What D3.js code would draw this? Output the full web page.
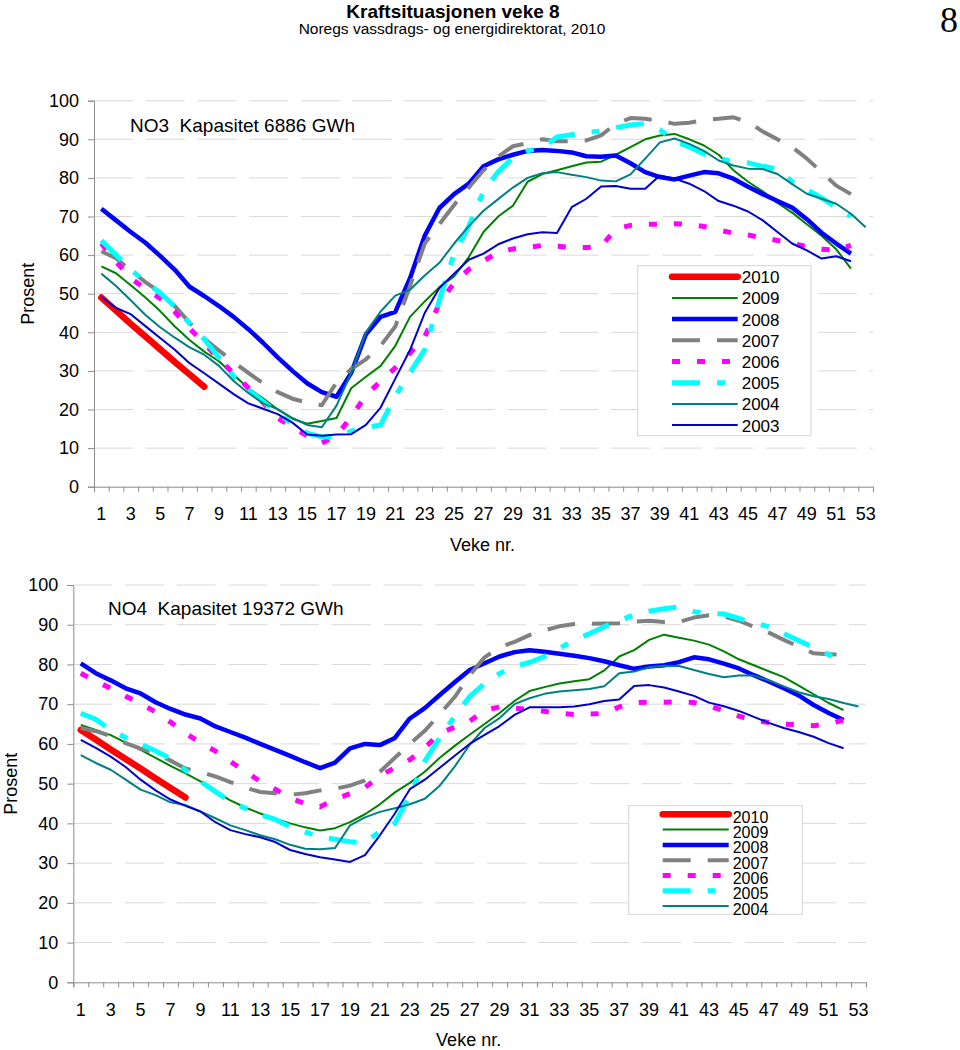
<!DOCTYPE html>
<html><head><meta charset="utf-8">
<script src="https://cdn.jsdelivr.net/npm/d3@7"></script>
<style>
body{margin:0;background:#fff;}
svg{display:block;font-family:"Liberation Sans",Arial,sans-serif;}
</style></head><body>
<svg id="c" width="960" height="1050"></svg>
<script>
// ---------- DATA ----------
const weeks = d3.range(1, 54);
const weekLabels = d3.range(1, 54, 2);
const yTicks = d3.range(0, 101, 10);
const years = ["2010","2009","2008","2007","2006","2005","2004","2003"];

// NO3 (Kapasitet 6886 GWh)
const no3_2010 = [49,45.6,42.2,38.9,35.6,32.3,29.1,25.9];
const no3_2009 = [57.1,55.3,52.2,49,45.5,41.5,38,35,32.5,29,25.5,22.9,20,17.6,16.3,17,17.8,25.5,28.5,31.3,36.5,44,48,51.7,54.5,59.5,66,70,72.8,79,81,82,83,84,84.2,86,88,90,91,91.4,90,88.4,86,82,79,76.5,73.5,71,68,65,61.5,56.5];
const no3_2008 = [72,69,66,63.2,59.8,56.2,51.8,49.4,46.8,44,40.8,37.3,33.5,30,26.8,24.5,23.3,29.5,39.5,44,45.3,54,65,72.2,75.8,78.5,83,84.8,86,87,87.2,87,86.6,85.6,85.5,85.8,83.8,81.5,80.2,79.6,80.6,81.5,81.2,79.8,77.7,75.8,74,72.3,69.3,65.8,63,60.4];
const no3_2007 = [61,59.2,56,53,50.4,46.8,42.5,38.4,35.3,32.3,29.5,26.8,24.5,22.8,21.8,21.1,27,30.5,33,36.5,41.5,52,63,68,73,77.5,82,85.5,88.2,89,90,89.5,89.5,89.7,91,94,95.5,95.3,94.8,94,94.3,95,95.3,95.7,94.5,92,90,88,85,81.5,78,75.8];
const no3_2006 = [63,58.3,54,51.3,48.8,45.3,41,37.2,33,29.4,25.6,21.8,17.8,15.4,13.2,11.3,13.3,18,23.7,27.3,30.8,34.6,38.8,47.5,52.8,56.3,58.5,60.7,61.6,62,62.5,62.3,62,62,62.2,66.8,67.7,68,68,68.1,68,67.4,66.5,65.7,65.2,64.5,63.8,63,62.2,61.5,61.3,62.5];
const no3_2005 = [63.8,60,56.3,53,50.2,46.7,42.3,38.2,33.4,28.6,25.1,22.1,19.1,16.2,13.9,12.9,12.9,14.4,15.3,16,23.5,29.5,35.5,48.3,60.5,67.5,76.5,81.6,85.2,87,87.8,90.6,91.2,91.8,92.1,93,93.7,94.1,92.5,89.5,88,86.2,85,84.3,83.9,83,82.3,79,77,74.8,72.4,70];
const no3_2004 = [55.2,52,48.3,44.5,41.3,38.6,36.1,34.2,31.3,27.4,24.3,21.6,20.1,17.8,16,15.4,21,29.5,40,45.4,49.5,51,54.7,58,63,67.5,71.5,74.5,77.5,80,81.2,81.5,80.8,80.2,79.3,79.1,80.9,85,89.2,90.2,88.8,87,84.5,83.2,82.4,82.3,81,78.4,75.9,74.6,73.3,70.7,67.2];
const no3_2003 = [49.2,46.3,44.7,41.6,38.5,35.5,32,29.4,26.7,24,21.6,20.2,18.8,16.6,13.5,13.2,13.5,13.6,16,20.5,28,35.4,45,51.5,55.2,58.8,60.4,62.8,64.3,65.4,65.9,65.7,72.4,74.6,77.8,77.9,77.2,77.2,80.6,79.8,78.5,76.6,74,72.8,71.3,69,66,63,61.2,59.1,59.7,58.4];

// NO4 (Kapasitet 19372 GWh)
const no4_2010 = [63.5,61.1,58.6,56.2,53.8,51.3,48.9,46.5];
const no4_2009 = [64.8,63.5,62.2,60.3,58.5,56.5,54.5,52.6,50.6,48,45.8,44,42.5,41.2,40,39,38.2,38.8,40.3,42.3,44.8,47.8,50.2,53,56.5,59.5,62.3,65,67.8,70.8,73.3,74.3,75.2,75.8,76.3,78.5,82,83.6,86.2,87.5,86.7,86,85,83.3,81.3,79.8,78.3,76.8,74.7,72.5,70.3,68.5];
const no4_2008 = [80.3,77.8,76,74,72.7,70.5,68.8,67.4,66.4,64.4,63,61.6,60,58.5,57,55.4,53.9,55.3,58.9,60,59.7,61.5,66.4,69,72.3,75.5,78.6,80.3,82,83.1,83.6,83.2,82.7,82.2,81.6,80.8,79.8,78.9,79.5,79.8,80.6,81.8,81.3,80.2,79,77.3,75.7,74,72.2,69.8,67.8,66];
const no4_2007 = [64,63.2,62,60.2,58.8,57.7,55.8,53.8,53,51.8,50.4,49,47.9,47.6,47.2,47.6,48.3,48.7,49.5,50.8,53,56.5,60,63.3,67.5,71.8,77.3,81.8,84.3,85.7,87.4,88.6,89.6,90.2,90.2,90.3,90.4,90.8,91,90.7,90.7,91.8,92.4,92.1,91,89.5,88,86.2,84.5,82.8,82.6,82.4];
const no4_2006 = [77.8,75.8,74,72,70.2,68,65.5,62.7,60.3,58.2,55.6,53,50.6,48.6,46.3,45,44.2,46,47.5,49,52,54,56,59,62.7,64.2,65.7,68.5,69.3,69,68.7,68.2,67.7,67.4,67.5,67.7,69.3,70.4,70.5,70.5,70.6,70.4,69.5,68.4,67,66,65.4,65,64.8,64.6,65,66];
const no4_2005 = [67.7,66.2,63.5,61.6,60,58.2,56.3,53.3,50.6,48,45.5,43.8,42.2,41,39.2,37.8,36.6,36,35.4,35.1,38,40,47,55.7,61.5,67,71.9,75.2,77.7,79.5,80.5,82,84,86.3,87.7,89.5,91,92.5,93.4,94,94.5,93.3,92.8,92.7,91.6,90.5,89.5,87.8,86,84.3,82.5,80.5];
const no4_2004 = [57.2,55.2,53.5,51,48.5,47.1,45.3,44.6,43,41.3,39.5,38.3,37,36,34.6,33.6,33.5,33.8,39.5,41.5,42.9,43.8,44.8,46.2,49.5,54.3,59.8,64,66.5,70,71.5,72.6,73.2,73.5,73.8,74.5,77.8,78.2,79.3,79.7,79.6,78.6,77.6,76.8,77.2,77.2,76,74.5,73,72,71.3,70.3,69.4];
const no4_2003 = [61,59,56.8,54.2,51,48.3,46,44.4,43,40.3,38.3,37.3,36.5,35.3,33.3,32.3,31.5,30.9,30.3,32,37,42.5,48.6,51,54,57,60,62.3,64.5,67.3,69.2,69.2,69.2,69.4,70,70.8,71.2,74.6,74.8,74.2,73.2,72.1,70.4,69.5,68.3,66.8,65.3,64,63,61.8,60.2,58.9];

// ---------- STYLES ----------
const style = {
  "2010": {color:"#ff0000", width:6.5, dash:null, cap:"round"},
  "2009": {color:"#008000", width:2, dash:null, cap:"butt"},
  "2008": {color:"#0000ff", width:4.5, dash:null, cap:"butt"},
  "2007": {color:"#808080", width:4, dash:"28,17", cap:"butt"},
  "2006": {color:"#ff00ff", width:5, dash:"8,17", cap:"butt"},
  "2005": {color:"#00ffff", width:5, dash:"28,17,8,17", cap:"butt"},
  "2004": {color:"#008080", width:2, dash:null, cap:"butt"},
  "2003": {color:"#0000cc", width:2, dash:null, cap:"butt"}
};

const svg = d3.select("#c");

// header
svg.append("text").attr("x", 453).attr("y", 17.5).attr("text-anchor","middle")
  .attr("font-size", 19).attr("font-weight","bold").text("Kraftsituasjonen veke 8");
svg.append("text").attr("x", 452).attr("y", 34).attr("text-anchor","middle")
  .attr("font-size", 15.5).text("Noregs vassdrags- og energidirektorat, 2010");
svg.append("text").attr("x", 958).attr("y", 32).attr("text-anchor","end")
  .attr("font-family","'Liberation Serif','Times New Roman',serif")
  .attr("font-size", 36).text("8");

function panel(cfg) {
  const g = svg.append("g");
  const x = d3.scaleBand().domain(weeks).range([cfg.left, cfg.right]).padding(0);
  const xb = d3.scaleLinear().domain([0, 53]).range([cfg.left, cfg.right]);
  const y = d3.scaleLinear().domain([0, 100]).range([cfg.bottom, cfg.top]);
  const cx = w => x(w) + x.bandwidth() / 2;

  // gridlines
  g.append("g").selectAll("line").data(yTicks.filter(v => v > 0)).join("line")
    .attr("x1", cfg.left).attr("x2", cfg.right)
    .attr("y1", d => y(d)).attr("y2", d => y(d))
    .attr("stroke", "#d9d9d9").attr("stroke-width", 1).attr("stroke-dasharray", "39,12.7");

  // y axis
  const ya = g.append("g").attr("transform", `translate(${cfg.left},0)`)
    .call(d3.axisLeft(y).tickValues(yTicks).tickSize(6).tickPadding(9));
  ya.select(".domain").attr("stroke", "#8c8c8c");
  ya.selectAll(".tick line").attr("stroke", "#8c8c8c");
  ya.selectAll("text").attr("font-size", 18).attr("font-family", "'Liberation Sans',Arial,sans-serif").attr("fill", "#000");

  // x axis: ticks at category boundaries
  const xa = g.append("g").attr("transform", `translate(0,${cfg.bottom})`)
    .call(d3.axisBottom(xb).tickValues(d3.range(0, 54)).tickSize(5).tickFormat(""));
  xa.select(".domain").attr("stroke", "#8c8c8c");
  xa.selectAll(".tick line").attr("stroke", "#8c8c8c");
  const xl = g.append("g").attr("transform", `translate(0,${cfg.bottom})`)
    .call(d3.axisBottom(x).tickValues(weekLabels).tickSize(0).tickPadding(21));
  xl.select(".domain").remove();
  xl.selectAll("text").attr("font-size", 18).attr("font-family", "'Liberation Sans',Arial,sans-serif").attr("fill", "#000");

  // axis titles
  g.append("text").attr("transform", `translate(${cfg.yTitleX},${(cfg.top + cfg.bottom) / 2}) rotate(-90)`)
    .attr("text-anchor", "middle").attr("dominant-baseline", "central")
    .attr("font-size", 18).text("Prosent");
  g.append("text").attr("x", (cfg.left + cfg.right) / 2 - 1).attr("y", cfg.xTitleY)
    .attr("text-anchor", "middle").attr("font-size", 18).text("Veke nr.");

  // chart title (double space kept)
  g.append("text").attr("x", cfg.titleX).attr("y", cfg.titleY)
    .attr("xml:space", "preserve").style("white-space", "pre")
    .attr("font-size", 19).text(cfg.title);

  // lines
  const line = d3.line().defined(d => d.v != null).x(d => cx(d.w)).y(d => y(d.v));
  cfg.series.forEach(s => {
    const st = style[s.year];
    const pts = s.values.map((v, i) => ({w: i + 1, v: v}));
    g.append("path").datum(pts).attr("d", line)
      .attr("fill", "none").attr("stroke", st.color).attr("stroke-width", st.width)
      .attr("stroke-dasharray", st.dash).attr("stroke-linecap", st.cap)
      .attr("stroke-linejoin", "round");
  });

  // legend
  const L = cfg.legend;
  const lg = g.append("g");
  lg.append("rect").attr("x", L.x0).attr("y", L.y0).attr("width", L.x1 - L.x0).attr("height", L.y1 - L.y0)
    .attr("fill", "#fff").attr("stroke", "#d4d4d4").attr("stroke-width", 1);
  L.years.forEach((yr, i) => {
    const st = style[yr];
    const yy = L.rowY + i * L.rowH;
    lg.append("line").attr("x1", L.lx0).attr("x2", L.lx1).attr("y1", yy).attr("y2", yy)
      .attr("stroke", st.color).attr("stroke-width", st.width)
      .attr("stroke-dasharray", st.dash).attr("stroke-linecap", st.cap);
    lg.append("text").attr("x", L.tx).attr("y", yy + L.tdy).attr("dominant-baseline", "central")
      .attr("font-size", L.fs).text(yr);
  });
}

panel({
  left: 94, right: 873, top: 100.7, bottom: 486.7,
  yTitleX: 28, xTitleY: 551,
  title: "NO3  Kapasitet 6886 GWh", titleX: 130, titleY: 131.5,
  series: [
    {year:"2010", values:no3_2010}, {year:"2009", values:no3_2009}, {year:"2008", values:no3_2008},
    {year:"2007", values:no3_2007}, {year:"2006", values:no3_2006}, {year:"2005", values:no3_2005},
    {year:"2004", values:no3_2004}, {year:"2003", values:no3_2003}
  ],
  legend: {x0: 637.7, x1: 811, y0: 265.7, y1: 435.7, rowY: 276.7, rowH: 21.2,
           lx0: 672, lx1: 737.7, tx: 741.7, tdy: 1, fs: 17, years: years}
});

panel({
  left: 73.3, right: 866, top: 585, bottom: 982.3,
  yTitleX: 10.5, xTitleY: 1046,
  title: "NO4  Kapasitet 19372 GWh", titleX: 108, titleY: 614.5,
  series: [
    {year:"2010", values:no4_2010}, {year:"2009", values:no4_2009}, {year:"2008", values:no4_2008},
    {year:"2007", values:no4_2007}, {year:"2006", values:no4_2006}, {year:"2005", values:no4_2005},
    {year:"2004", values:no4_2004}, {year:"2003", values:no4_2003}
  ],
  legend: {x0: 628.7, x1: 802.3, y0: 805.7, y1: 914.3, rowY: 814.3, rowH: 15.3,
           lx0: 662.7, lx1: 728.7, tx: 732.7, tdy: 3, fs: 16, years: years.slice(0, 7)}
});
</script>
</body></html>
